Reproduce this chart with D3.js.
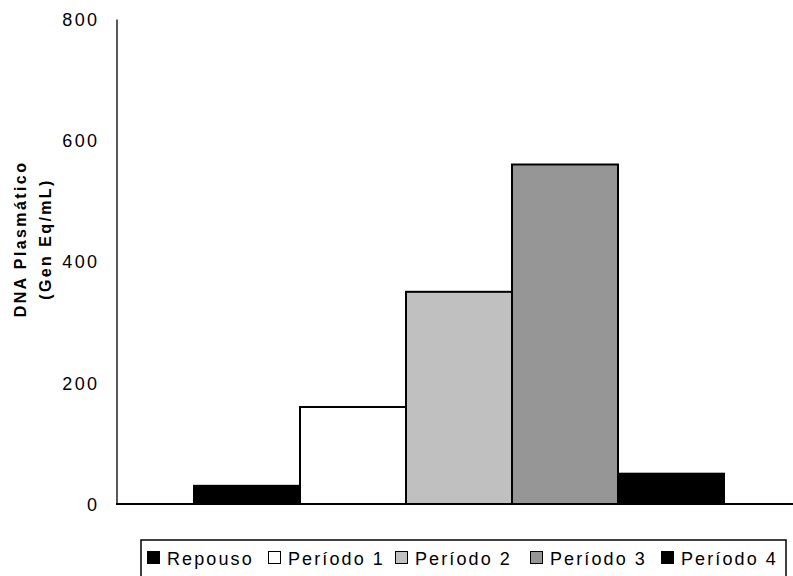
<!DOCTYPE html>
<html>
<head>
<meta charset="utf-8">
<script src="https://cdn.jsdelivr.net/npm/d3@7"></script>
<style>
  html, body { margin: 0; padding: 0; background: #fff; }
  svg { display: block; }
  text { font-family: "Liberation Sans", Arial, sans-serif; fill: #000; }
</style>
</head>
<body>
<svg id="chart" width="793" height="576"></svg>
<script>
// Plasma DNA (genome equivalents per mL) at rest and over four periods
const series = ["Repouso", "Período 1", "Período 2", "Período 3", "Período 4"];
const values = [30, 160, 350, 560, 50];
const colors = ["#000000", "#ffffff", "#c0c0c0", "#969696", "#000000"];
const yTicks = [0, 200, 400, 600, 800];
const yTitle = ["DNA Plasmático", "(Gen Eq/mL)"];

// Legend layout: left edge of each swatch
const legendSwatchX = [147, 268, 395, 530, 661];

const svg = d3.select("#chart");
const LS = 2.4; // letter spacing used by axis labels

const y = d3.scaleLinear().domain([0, 800]).range([504, 19]);
const x = d3.scaleBand().domain(series).range([194, 724]).padding(0);

// Bars
svg.append("g").selectAll("rect")
  .data(series)
  .join("rect")
  .attr("x", d => x(d))
  .attr("y", (d, i) => y(values[i]))
  .attr("width", x.bandwidth())
  .attr("height", (d, i) => y(0) - y(values[i]))
  .attr("fill", (d, i) => colors[i])
  .attr("stroke", "#000")
  .attr("stroke-width", 2);

// Y axis (line only, labels without tick marks)
const yAxis = svg.append("g")
  .attr("transform", "translate(116.5,0)")
  .call(d3.axisLeft(y).tickValues(yTicks).tickSize(0).tickPadding(0).tickFormat(d3.format("d")));
yAxis.select(".domain").attr("stroke", "#000").attr("stroke-width", 1.3);
yAxis.selectAll("text")
  .attr("x", -17)
  .attr("dy", "0.36em")
  .style("font-size", "18px")
  .style("letter-spacing", LS + "px")
  .style("font-family", "'Liberation Sans', Arial, sans-serif")
  .attr("fill", "#000");

// X axis baseline
svg.append("line")
  .attr("x1", 116).attr("x2", 802)
  .attr("y1", y(0)).attr("y2", y(0))
  .attr("stroke", "#000").attr("stroke-width", 2);

// Y axis title (two lines, rotated)
const title = svg.append("text")
  .attr("transform", "translate(0,239) rotate(-90)")
  .attr("text-anchor", "middle")
  .style("font-size", "16px")
  .style("font-weight", "bold")
  .style("letter-spacing", LS + "px");
title.selectAll("tspan")
  .data(yTitle)
  .join("tspan")
  .attr("x", 0)
  .attr("y", (d, i) => 26 + i * 25)
  .text(d => d);

// Legend
const legend = svg.append("g");
legend.append("rect")
  .attr("x", 141).attr("y", 540)
  .attr("width", 645).attr("height", 50)
  .attr("fill", "#fff")
  .attr("stroke", "#000").attr("stroke-width", 1.5);

const items = legend.selectAll("g.item")
  .data(series)
  .join("g")
  .attr("class", "item")
  .attr("transform", (d, i) => `translate(${legendSwatchX[i]},0)`);
items.append("rect")
  .attr("x", 0.5).attr("y", 551.5)
  .attr("width", 12).attr("height", 12)
  .attr("fill", (d, i) => colors[i])
  .attr("stroke", "#000").attr("stroke-width", 1);
items.append("text")
  .attr("x", 20).attr("y", 565)
  .style("font-size", "18px")
  .style("letter-spacing", "2.1px")
  .text(d => d);
</script>
</body>
</html>
